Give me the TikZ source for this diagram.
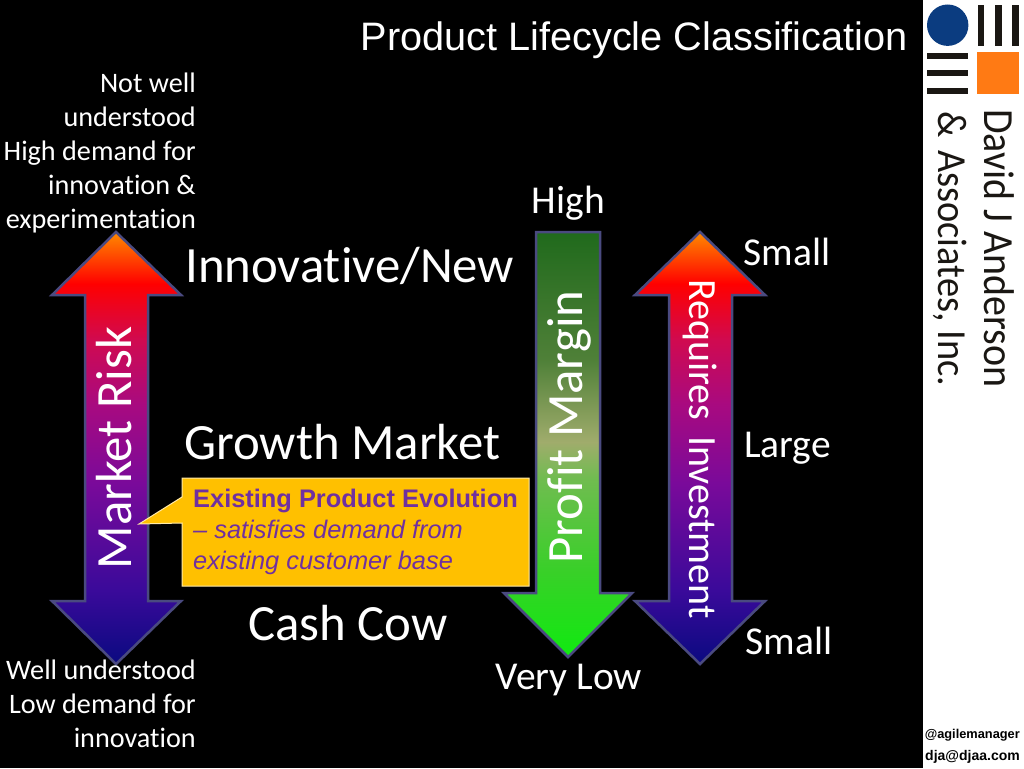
\documentclass[tikz,border=0pt]{standalone}
\usepackage{fontspec}
\setmainfont{Carlito}[Ligatures=CommonOff]
\newfontfamily\arialfont{Liberation Sans}
\newfontfamily\companyfont{Carlito}[Ligatures=CommonOff,FakeStretch=0.93]
\usetikzlibrary{positioning}
\definecolor{calloutfill}{HTML}{FFC000}
\definecolor{calloutline}{HTML}{FFE9A8}
\definecolor{calloutink}{HTML}{7030A0}
\definecolor{arrowline}{HTML}{4A4A80}
\definecolor{logoblue}{HTML}{0B3C80}
\definecolor{logoorange}{HTML}{FF7A14}
\definecolor{logoblack}{HTML}{1A1713}
\definecolor{riska}{HTML}{0A0A80}
\definecolor{riskb}{HTML}{3A0A9A}
\definecolor{riskc}{HTML}{7A0A9A}
\definecolor{riskd}{HTML}{A80A80}
\definecolor{riske}{HTML}{D00A50}
\definecolor{riskf}{HTML}{FF0000}
\definecolor{riskg}{HTML}{FF8A00}
\definecolor{margina}{HTML}{10EA10}
\definecolor{marginb}{HTML}{38D028}
\definecolor{marginc}{HTML}{70BC50}
\definecolor{margind}{HTML}{A0AC6C}
\definecolor{margine}{HTML}{4F8038}
\definecolor{marginf}{HTML}{206A1C}
\pgfdeclareverticalshading{riskshade}{100bp}{color(0bp)=(riska);color(25bp)=(riska);color(33.5bp)=(riskb);color(46bp)=(riskc);color(55bp)=(riskd);color(62.5bp)=(riske);color(69bp)=(riskf);color(75bp)=(riskg);color(100bp)=(riskg)}
\pgfdeclareverticalshading{marginshade}{100bp}{color(0bp)=(margina);color(25bp)=(margina);color(35bp)=(marginb);color(46bp)=(marginc);color(50.3bp)=(margind);color(60bp)=(margine);color(75bp)=(marginf);color(100bp)=(marginf)}
\tikzset{
  whitelabel/.style={text=white, inner sep=0pt},
  sidelabel/.style={whitelabel, font=\fontsize{28.2}{34}\selectfont, align=right, anchor=north east},
  scalelabel/.style={whitelabel, font=\fontsize{39.5}{44}\selectfont},
  stagelabel/.style={whitelabel, font=\fontsize{50.8}{56}\selectfont, anchor=base west},
  arrowtext/.style={whitelabel, font=\fontsize{50.8}{56}\selectfont},
  bigarrow/.style={draw=arrowline, line width=2.5pt, line join=miter},
  logobar/.style={fill=logoblack},
  companytext/.style={text=logoblack, inner sep=0pt, rotate=-90, anchor=base west},
  contact/.style={inner sep=0pt, text=black, font=\arialfont\bfseries, anchor=base east},
}
\begin{document}
\begin{tikzpicture}[x=1pt, y=-1pt]
\useasboundingbox (0,0) rectangle (1024,768);
\fill[black] (0,0) rectangle (1024,768);
\fill[white] (923,0) rectangle (1024,768);
% logo
\fill[logoblue] (947.7,25.2) circle (20.7);
\fill[logobar] (977.7,4.7) rectangle (984.3,46);
\fill[logobar] (995,4.7) rectangle (1001.7,46);
\fill[logobar] (1012.3,4.7) rectangle (1019,46);
\fill[logobar] (926.7,53.3) rectangle (968.3,59.3);
\fill[logobar] (926.7,70.3) rectangle (968.3,76.3);
\fill[logobar] (926.7,87.5) rectangle (968.3,93.7);
\fill[logoorange] (977.3,52.3) rectangle (1019,94);
\node (company) [companytext, font=\companyfont\fontsize{43}{48}\selectfont] at (984,109) {David J Anderson};
\node (associates) [companytext, font=\companyfont\fontsize{41.3}{48}\selectfont] at (938,111) {\&\hspace{4pt}\ Associates, Inc.};
\node (handle) [contact, font=\arialfont\bfseries\fontsize{12.8}{15}\selectfont] at (1020,738) {@agilemanager};
\node (email) [contact, font=\arialfont\bfseries\fontsize{14}{16}\selectfont] at (1020,760) {dja@djaa.com};
% title
\node (title) [whitelabel, font=\arialfont\fontsize{39.7}{44}\selectfont, anchor=base east] at (908,51) {Product Lifecycle Classification};
% arrows
\path[bigarrow, shading=riskshade] (116,232) -- (181,295) -- (148,295) -- (148,601) -- (181,601) -- (116,664) -- (52,601) -- (85,601) -- (85,295) -- (52,295) -- cycle;
\path[bigarrow, shading=marginshade] (536,232) -- (600,232) -- (600,593) -- (632,593) -- (568,657) -- (504,593) -- (536,593) -- cycle;
\path[bigarrow, shading=riskshade] (700,232) -- (765,295) -- (732,295) -- (732,601) -- (765,601) -- (700,664) -- (635,601) -- (669,601) -- (669,295) -- (635,295) -- cycle;
\node (risk) [arrowtext, rotate=90] at (114,448) {Market Risk};
\node (margin) [arrowtext, rotate=90] at (569,427) {Profit Margin};
\node (requires) [whitelabel, rotate=-90, font=\fontsize{40}{44}\selectfont] at (700,449) {Requires\hspace{16pt}Investment};
% left notes
\node (notwell) [sidelabel] at (196,73) {Not well\\understood\\High demand for\\innovation \&\\experimentation};
\node (well) [sidelabel] at (196,660) {Well understood\\Low demand for\\innovation};
% stages
\node (innovative) [stagelabel] at (185,282) {Innovative/New};
\node (growth) [stagelabel] at (184,459) {Growth Market};
\node (cashcow) [stagelabel] at (248,640) {Cash Cow};
% scale labels
\node (high) [scalelabel] at (568.5,203) {High};
\node (verylow) [scalelabel] at (569,680) {Very Low};
\node (smalltop) [scalelabel] at (787,252) {Small};
\node (large) [scalelabel] at (787.5,448) {Large};
\node (smallbottom) [scalelabel] at (789,641) {Small};
% callout
\draw[fill=calloutfill, draw=calloutline, line width=1pt] (182,478) -- (529,478) -- (529,586) -- (182,586) -- (182,523) -- (139,524) -- (182,497) -- cycle;
\node (evolution) [inner sep=0pt, anchor=north west, align=left, text=calloutink, font=\arialfont\fontsize{25.4}{31}\selectfont] at (193,489) {\textbf{Existing Product Evolution}\\\textit{– satisfies demand from}\\\textit{existing customer base}};
\end{tikzpicture}
\end{document}
